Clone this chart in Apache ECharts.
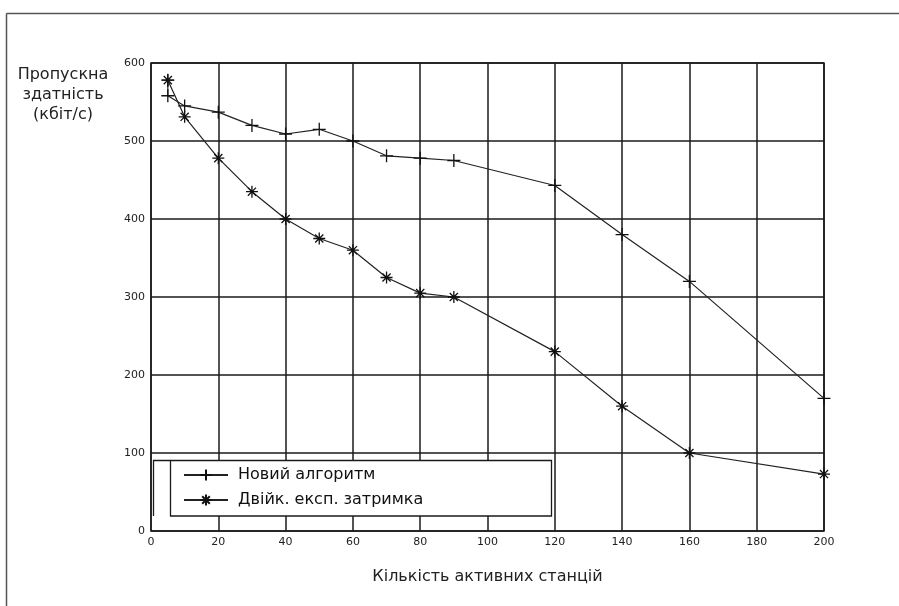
<!DOCTYPE html>
<html>
<head>
<meta charset="utf-8">
<script src="https://cdn.jsdelivr.net/npm/echarts@6/dist/echarts.min.js"></script>
<style>
html,body{margin:0;padding:0;background:#fff;}
#c{width:899px;height:606px;}
</style>
</head>
<body>
<div id="c"></div>
<script>
var seriesNames = ['Новий алгоритм', 'Двійк. експ. затримка'];
var newAlgX = [5, 5, 10, 20, 30, 40, 50, 60, 70, 80, 90, 120, 140, 160, 200];
var newAlgY = [578, 558, 545, 537, 520, 509, 515, 500, 481, 478, 475, 443, 380, 320, 170];
var beX = [5, 10, 20, 30, 40, 50, 60, 70, 80, 90, 120, 140, 160, 200];
var beY = [578, 531, 478, 435, 400, 375, 360, 325, 305, 300, 230, 160, 100, 73];
var xTicks = [0, 20, 40, 60, 80, 100, 120, 140, 160, 180, 200];
var yTicks = [0, 100, 200, 300, 400, 500, 600];
var yTitle = 'Пропускна\nздатність\n(кбіт/с)';
var xTitle = 'Кількість активних станцій';

function pairs(xs, ys){ return xs.map(function(x,i){ return [x, ys[i]]; }); }

var plusSym = 'path://M5,0L5,10M0,5L10,5';
var starSym = 'path://M5,0L5,10M0,5L10,5M1.6,1.6L8.4,8.4M8.4,1.6L1.6,8.4';
var FONT = 'DejaVu Sans';

var chart = echarts.init(document.getElementById('c'), null, {renderer:'canvas'});
chart.setOption({
  animation: false,
  backgroundColor: '#fff',
  grid: {left: 151, right: 75, top: 63, bottom: 75, show: true, borderColor: '#1a1a1a', borderWidth: 1.5},
  xAxis: {
    type: 'value', min: xTicks[0], max: xTicks[xTicks.length-1], interval: 20,
    name: xTitle, nameLocation: 'middle', nameGap: 38,
    nameTextStyle: {fontFamily: FONT, fontSize: 16, color: '#222'},
    axisLine: {show: false}, axisTick: {show: false},
    axisLabel: {fontFamily: FONT, fontSize: 11, color: '#222', margin: 6},
    splitLine: {show: true, lineStyle: {color: '#1a1a1a', width: 1.5}}
  },
  yAxis: {
    type: 'value', min: yTicks[0], max: yTicks[yTicks.length-1], interval: 100,
    axisLine: {show: false}, axisTick: {show: false},
    axisLabel: {fontFamily: FONT, fontSize: 11, color: '#222', margin: 6},
    splitLine: {show: true, lineStyle: {color: '#1a1a1a', width: 1.5}}
  },
  legend: {
    orient: 'vertical', left: 183, top: 467, itemWidth: 44, itemHeight: 14, itemGap: 9,
    padding: 0, z: 30,
    textStyle: {fontFamily: FONT, fontSize: 16, color: '#111', padding: [0,0,0,5]},
    data: seriesNames
  },
  graphic: [
    {type: 'line', shape: {x1: 6.5, y1: 13.5, x2: 899, y2: 13.5}, style: {stroke: '#555', lineWidth: 1.5}},
    {type: 'line', shape: {x1: 6.5, y1: 13.5, x2: 6.5, y2: 606}, style: {stroke: '#555', lineWidth: 1.5}},
    {type: 'polyline', z: 10, shape: {points: [[153.5, 516], [153.5, 460.5], [551.5, 460.5], [551.5, 516], [170.5, 516], [170.5, 460.5]]},
      style: {stroke: '#1a1a1a', lineWidth: 1.3, fill: null}},
    {type: 'rect', z: 9, shape: {x: 170.5, y: 460.5, width: 381, height: 55.5}, style: {fill: '#fff'}},
    {type: 'rect', z: 9, shape: {x: 153.5, y: 460.5, width: 17, height: 50}, style: {fill: '#fff'}},
    {type: 'text', left: 8, top: 65, z: 10,
      style: {text: yTitle, font: '16px "DejaVu Sans"', fill: '#222', textAlign: 'center', lineHeight: 20, width: 110, align: 'center'}}
  ],
  series: [
    {
      name: seriesNames[0], type: 'line', data: pairs(newAlgX, newAlgY),
      symbol: plusSym, symbolSize: 13, showAllSymbol: true, z: 3,
      lineStyle: {color: '#222', width: 1.2},
      itemStyle: {color: 'transparent', borderColor: '#111', borderWidth: 1.3}
    },
    {
      name: seriesNames[1], type: 'line', data: pairs(beX, beY),
      symbol: starSym, symbolSize: 12, showAllSymbol: true, z: 3,
      lineStyle: {color: '#222', width: 1.2},
      itemStyle: {color: 'transparent', borderColor: '#111', borderWidth: 1.3}
    }
  ]
});
</script>
</body>
</html>
